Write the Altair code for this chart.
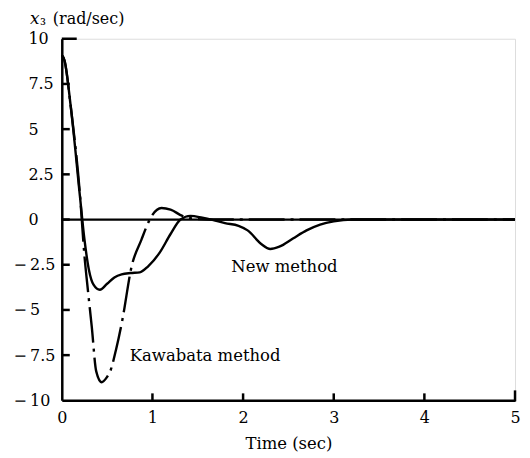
import altair as alt
import pandas as pd

# ---- data ----
time_new = [0, 0.03, 0.1, 0.2, 0.25, 0.3, 0.35, 0.42, 0.5, 0.58, 0.66, 0.76, 0.86, 0.95,
            1.08, 1.2, 1.31, 1.42, 1.55, 1.65, 1.8, 1.95, 2.05, 2.2, 2.3, 2.4, 2.55,
            2.7, 2.85, 3.0, 3.2, 4.0, 5.0]
x3_new = [9.1, 8.8, 6.2, 1.3, -1.1, -2.8, -3.6, -3.88, -3.55, -3.2, -3.03, -2.96, -2.92, -2.6,
          -1.83, -0.8, 0.0, 0.2, 0.1, 0.0, -0.2, -0.35, -0.6, -1.35, -1.63, -1.5, -1.05,
          -0.6, -0.28, -0.1, 0.0, 0.0, 0.0]

time_kaw = [0, 0.03, 0.1, 0.2, 0.25, 0.29, 0.33, 0.38, 0.44, 0.5, 0.53, 0.6, 0.67, 0.77,
            0.88, 0.93, 0.99, 1.1, 1.2, 1.33, 1.45, 1.6, 2.0, 3.0, 4.0, 5.0]
x3_kaw = [9.1, 8.8, 6.2, 1.4, -2.0, -4.0, -5.9, -8.4, -9.0, -8.7, -8.45, -7.16, -5.5, -2.6,
          -1.1, -0.45, 0.18, 0.64, 0.55, 0.2, 0.05, 0.0, 0.0, 0.0, 0.0, 0.0]

x_tick_values = [0, 1, 2, 3, 4, 5]
y_tick_values = [-10, -7.5, -5, -2.5, 0, 2.5, 5, 7.5, 10]
inner_y_ticks = [-7.5, -5, -2.5, 0, 2.5, 5, 7.5]
inner_x_ticks = [1, 2, 3, 4]

labels_text = ["Kawabata method", "New method"]
labels_t = [0.75, 1.87]
labels_y = [-7.55, -2.62]

FONT = "DejaVu Serif"
W, H = 455, 363

df_new = pd.DataFrame({"t": time_new, "x3": x3_new})
df_kaw = pd.DataFrame({"t": time_kaw, "x3": x3_kaw})
df_lab = pd.DataFrame({"t": labels_t, "x3": labels_y, "text": labels_text})

xscale = alt.Scale(domain=[0, 5], nice=False, zero=False)
yscale = alt.Scale(domain=[-10, 10], nice=False, zero=False)

xaxis = alt.Axis(values=x_tick_values, ticks=False, tickSize=0, grid=False,
                 domainColor="black", domainWidth=2.5, labelFont=FONT, labelFontSize=16,
                 labelColor="black", labelPadding=9, labelExpr="'' + datum.value",
                 title="Time (sec)", titleFont=FONT,
                 titleFontSize=16.5, titleFontWeight="normal", titleColor="black",
                 titlePadding=10, labelFlush=False)
yaxis = alt.Axis(values=y_tick_values, ticks=False, tickSize=0, grid=False,
                 domainColor="black", domainWidth=2.5, labelFont=FONT, labelFontSize=16,
                 labelColor="black", labelAlign="left", labelBaseline="middle",
                 labelPadding={"condition": {"test": "datum.value < 0", "value": 49}, "value": 34},
                 labelExpr="datum.value < 0 ? '\u2212\u2009' + (-datum.value) : '' + datum.value",
                 title=None, labelFlush=False)

line_new = alt.Chart(df_new).mark_line(color="black", strokeWidth=2.4, interpolate="monotone").encode(
    x=alt.X("t:Q", scale=xscale, axis=xaxis),
    y=alt.Y("x3:Q", scale=yscale, axis=yaxis),
)
line_kaw = alt.Chart(df_kaw).mark_line(color="black", strokeWidth=2.4, interpolate="monotone",
                                       strokeDash=[36, 6, 3, 6]).encode(
    x=alt.X("t:Q", scale=xscale),
    y=alt.Y("x3:Q", scale=yscale),
)
zero_rule = alt.Chart(pd.DataFrame({"y": [0]})).mark_rule(color="black", strokeWidth=2.2).encode(
    y=alt.Y("y:Q", scale=yscale)
)
ytick = alt.Chart(pd.DataFrame({"v": inner_y_ticks})).mark_rule(color="black", strokeWidth=2.5).encode(
    y=alt.Y("v:Q", scale=yscale), x=alt.value(0), x2=alt.value(8)
)
ytick_top = alt.Chart(pd.DataFrame({"v": [10]})).mark_rule(color="black", strokeWidth=2.5).encode(
    y=alt.Y("v:Q", scale=yscale), x=alt.value(0), x2=alt.value(15)
)
xtick = alt.Chart(pd.DataFrame({"v": inner_x_ticks})).mark_rule(color="black", strokeWidth=2.5).encode(
    x=alt.X("v:Q", scale=xscale), y=alt.value(H), y2=alt.value(H - 7)
)
xtick_end = alt.Chart(pd.DataFrame({"v": [5]})).mark_rule(color="black", strokeWidth=2.5).encode(
    x=alt.X("v:Q", scale=xscale), y=alt.value(H + 1), y2=alt.value(H - 10)
)
labels = alt.Chart(df_lab).mark_text(font=FONT, fontSize=16.5, align="left", baseline="middle",
                                     color="black").encode(
    x=alt.X("t:Q", scale=xscale), y=alt.Y("x3:Q", scale=yscale), text="text:N"
)
title_x = alt.Chart(pd.DataFrame({"s": ["x"]})).mark_text(
    font=FONT, fontSize=17, fontStyle="italic", align="left", baseline="alphabetic", color="black"
).encode(x=alt.value(-32), y=alt.value(-15), text="s:N")
title_sub = alt.Chart(pd.DataFrame({"s": ["\u2083"]})).mark_text(
    font=FONT, fontSize=15, align="left", baseline="alphabetic", color="black"
).encode(x=alt.value(-22), y=alt.value(-14), text="s:N")
title_rest = alt.Chart(pd.DataFrame({"s": ["(rad/sec)"]})).mark_text(
    font=FONT, fontSize=16, align="left", baseline="alphabetic", color="black"
).encode(x=alt.value(-9), y=alt.value(-15), text="s:N")

chart = alt.layer(
    line_new, line_kaw, zero_rule, ytick, ytick_top, xtick, xtick_end, labels,
    title_x, title_sub, title_rest
).properties(
    width=W, height=H,
    autosize=alt.AutoSizeParams(type="none"),
    padding={"left": 54, "top": 30, "right": 7, "bottom": 53},
).configure_view(stroke=None).configure(background="white")

chart.save("out.html", embed_options={"renderer": "svg", "actions": False})
